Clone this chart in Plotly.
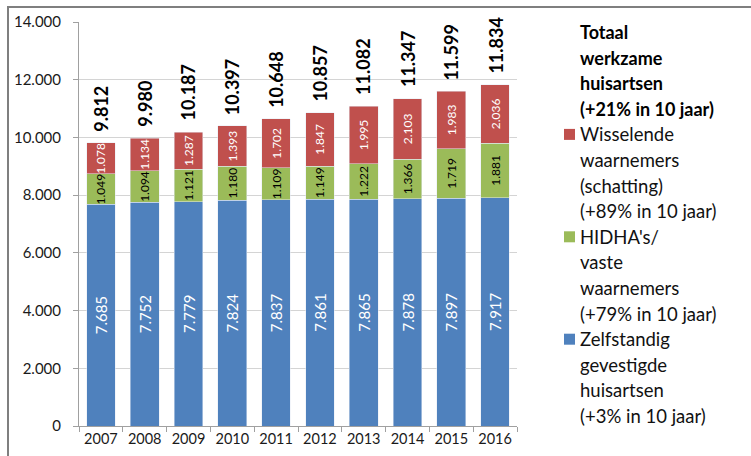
import plotly.graph_objects as go

years = ["2007", "2008", "2009", "2010", "2011", "2012", "2013", "2014", "2015", "2016"]
zelfstandig = [7685, 7752, 7779, 7824, 7837, 7861, 7865, 7878, 7897, 7917]
hidha = [1049, 1094, 1121, 1180, 1109, 1149, 1222, 1366, 1719, 1881]
wisselend = [1078, 1134, 1287, 1393, 1702, 1847, 1995, 2103, 1983, 2036]
totaal = [9812, 9980, 10187, 10397, 10648, 10857, 11082, 11347, 11599, 11834]

legend_title = ["Totaal", "werkzame", "huisartsen", "(+21% in 10 jaar)"]
legend_items = [
    ("#C0504D", ["Wisselende", "waarnemers", "(schatting)", "(+89% in 10 jaar)"]),
    ("#9BBB59", ["HIDHA's/", "vaste", "waarnemers", "(+79% in 10 jaar)"]),
    ("#4F81BD", ["Zelfstandig", "gevestigde", "huisartsen", "(+3% in 10 jaar)"]),
]

W, H = 751, 456
L, R, T, B = 79, 517, 22, 426
FONT = "Lato, Open Sans, sans-serif"


def px2x(px):
    return (px - L) / (R - L)


def py2y(py):
    return (B - py) / (B - T)


fig = go.Figure()
fig.add_trace(go.Bar(
    x=years, y=zelfstandig, name="Zelfstandig", marker_color="#4F81BD",
    text=zelfstandig, texttemplate="%{y:,}", textposition="inside",
    insidetextanchor="middle", textangle=270, constraintext="none",
    textfont=dict(family=FONT, size=15, color="white"),
))
fig.add_trace(go.Bar(
    x=years, y=hidha, name="HIDHA", marker_color="#9BBB59",
    text=hidha, texttemplate="%{y:,}", textposition="inside",
    insidetextanchor="middle", textangle=270, constraintext="none",
    textfont=dict(family=FONT, size=12, color="black"),
))
fig.add_trace(go.Bar(
    x=years, y=wisselend, name="Wisselend", marker_color="#C0504D",
    text=wisselend, texttemplate="%{y:,}", textposition="inside",
    insidetextanchor="middle", textangle=270, constraintext="none",
    textfont=dict(family=FONT, size=12, color="white"),
))

annotations = []
for idx, tot in enumerate(totaal):
    annotations.append(dict(
        x=idx, y=tot, xref="x", yref="y", text="<b>" + f"{tot:,}".replace(",", ".") + "</b>",
        textangle=-90, showarrow=False, yanchor="bottom", xanchor="center",
        yshift=9, font=dict(family=FONT, size=18, color="black"),
    ))

# legend drawn as text lines
LX = 578
line_y = lambda i: 32 + 25.6 * i
i = 0
for t in legend_title:
    annotations.append(dict(
        x=px2x(LX), y=py2y(line_y(i)), xref="paper", yref="paper", text=f"<b>{t}</b>",
        showarrow=False, xanchor="left", yanchor="middle",
        font=dict(family=FONT, size=18, color="black"),
    ))
    i += 1
shapes = []
for color, lines in legend_items:
    yc = line_y(i)
    shapes.append(dict(type="rect", xref="paper", yref="paper",
                       x0=px2x(564), x1=px2x(575), y0=py2y(yc - 5.5), y1=py2y(yc + 5.5),
                       fillcolor=color, line=dict(width=0)))
    for t in lines:
        annotations.append(dict(
            x=px2x(LX), y=py2y(line_y(i)), xref="paper", yref="paper", text=t,
            showarrow=False, xanchor="left", yanchor="middle",
            font=dict(family=FONT, size=18.5, color="#111"),
        ))
        i += 1

# clipped figure title at top
annotations.append(dict(
    x=px2x(8), y=py2y(1), xref="paper", yref="paper",
    text="<b>Figuur 1: Aantal werkzame huisartsen naar type, 2007-2016 per jaar</b>",
    showarrow=False, xanchor="left", yanchor="bottom",
    font=dict(family="Liberation Serif, serif", size=24, color="black"),
))

# frame lines
shapes.append(dict(type="line", xref="paper", yref="paper",
                   x0=px2x(7), x1=px2x(760), y0=py2y(7), y1=py2y(7),
                   line=dict(color="#7f7f7f", width=2)))
shapes.append(dict(type="line", xref="paper", yref="paper",
                   x0=px2x(8), x1=px2x(8), y0=py2y(7), y1=py2y(470),
                   line=dict(color="#7f7f7f", width=2)))

fig.update_layout(
    width=W, height=H, barmode="stack", bargap=0.345, showlegend=False,
    separators=",.",
    margin=dict(l=L, r=W - R, t=T, b=H - B, pad=0, autoexpand=False),
    paper_bgcolor="white", plot_bgcolor="white",
    font=dict(family=FONT, color="#1a1a1a"),
    annotations=annotations, shapes=shapes,
    xaxis=dict(type="category", range=[-0.5, len(years) - 0.5], showline=True,
               linecolor="#a0a0a0", linewidth=1,
               ticks="outside", tickson="boundaries", ticklen=5, tickcolor="#a0a0a0",
               tickfont=dict(size=14.5, family=FONT, color="#1a1a1a"), showgrid=False),
    yaxis=dict(range=[0, 14000], dtick=2000, tickformat=",", showline=True,
               linecolor="#a0a0a0", linewidth=1, ticks="outside", ticklen=5,
               tickcolor="#a0a0a0", gridcolor="#d4d4d4", gridwidth=1, zeroline=False,
               ticklabelstandoff=9,
               tickfont=dict(size=15, family=FONT, color="#1a1a1a")),
)

fig.write_html(
    "out.html",
    config={"displayModeBar": False},
    post_script="document.body.style.margin='0';document.body.style.overflow='hidden';",
)
